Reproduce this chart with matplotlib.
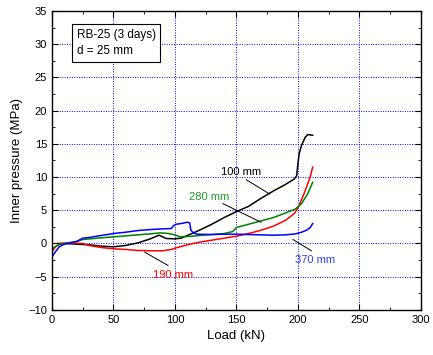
import matplotlib.pyplot as plt
from matplotlib.ticker import MultipleLocator

plt.rcParams['font.family'] = ['Liberation Sans', 'DejaVu Sans']

# Inner pressure vs load at four gauge positions (RB-25, 3 days)
load_100 = [5, 10, 20, 30, 40, 50, 60, 70, 80, 87, 90, 93, 100, 105, 110, 120, 130,
            140, 150, 160, 170, 180, 190, 197, 199, 200, 201, 203, 206, 208, 212]
p_100 = [0.0, 0.0, -0.1, -0.2, -0.4, -0.5, -0.3, 0.1, 0.7, 1.25, 1.0, 0.75, 0.7, 0.8,
         1.2, 2.0, 2.9, 3.9, 4.8, 5.6, 6.8, 7.9, 8.9, 9.7, 10.2, 12.0, 13.5, 14.8,
         16.0, 16.4, 16.3]

load_190 = [0, 3, 7, 15, 25, 30, 40, 50, 60, 70, 80, 90, 97, 102, 110, 120, 130, 140,
            150, 160, 170, 180, 190, 197, 200, 205, 210, 212]
p_190 = [-1.2, -0.5, 0.0, 0.1, 0.0, -0.3, -0.6, -0.8, -0.9, -1.05, -1.1, -1.1, -0.9,
         -0.6, -0.2, 0.2, 0.5, 0.8, 1.1, 1.5, 2.0, 2.6, 3.5, 4.5, 5.3, 7.5, 10.0, 11.5]

load_280 = [0, 5, 10, 20, 25, 40, 50, 60, 70, 80, 88, 95, 100, 104, 110, 120, 130, 140,
            147, 150, 160, 170, 180, 190, 198, 203, 208, 212]
p_280 = [-0.8, -0.2, 0.0, 0.3, 0.6, 0.85, 1.0, 1.15, 1.3, 1.45, 1.6, 1.5, 1.3, 1.0,
         1.05, 1.2, 1.35, 1.5, 1.8, 2.4, 2.9, 3.4, 3.9, 4.6, 5.2, 6.0, 7.5, 9.2]

load_370 = [0, 3, 6, 10, 15, 20, 25, 30, 40, 50, 60, 70, 80, 90, 97, 99, 101, 105, 110,
            112, 113, 115, 118, 130, 140, 150, 160, 170, 180, 190, 198, 203, 207, 210, 212]
p_370 = [-2.0, -1.2, -0.5, -0.1, 0.1, 0.3, 0.8, 0.9, 1.2, 1.5, 1.7, 1.95, 2.1, 2.2,
         2.25, 2.7, 2.9, 3.0, 3.2, 3.1, 2.0, 1.6, 1.4, 1.35, 1.4, 1.4, 1.35, 1.3, 1.25,
         1.3, 1.45, 1.7, 2.0, 2.4, 3.0]

fig = plt.figure(figsize=(4.33, 3.55), dpi=100)
ax = fig.add_axes([0.12, 0.127, 0.852, 0.842])

ax.plot(load_100, p_100, color='black', lw=1.1)
ax.plot(load_190, p_190, color='red', lw=1.1)
ax.plot(load_280, p_280, color='green', lw=1.1)
ax.plot(load_370, p_370, color='blue', lw=1.1)

# curve labels with leader lines
ax.text(153.5, 10.7, '100 mm', color='black', fontsize=8, ha='center', va='center')
ax.plot([158, 177], [9.6, 7.45], color='black', lw=0.7)
ax.text(128, 7.0, '280 mm', color='#22992a', fontsize=8, ha='center', va='center')
ax.plot([139, 170], [6.0, 3.2], color='black', lw=0.7)
ax.text(98.7, -4.8, '190 mm', color='red', fontsize=8, ha='center', va='center')
ax.plot([75.4, 94.3], [-1.3, -3.3], color='black', lw=0.7)
ax.text(214, -2.55, '370 mm', color='#3344ee', fontsize=8, ha='center', va='center')
ax.plot([196, 211], [0.6, -1.1], color='black', lw=0.7)

ax.text(20, 30.2, 'RB-25 (3 days)\nd = 25 mm', fontsize=8.5, ha='left', va='center',
        linespacing=1.45,
        bbox=dict(boxstyle='square,pad=0.4', facecolor='white', edgecolor='black', lw=0.8))

ax.set_xlim(0, 300)
ax.set_ylim(-10, 35)
ax.xaxis.set_major_locator(MultipleLocator(50))
ax.xaxis.set_minor_locator(MultipleLocator(25))
ax.yaxis.set_major_locator(MultipleLocator(5))
ax.yaxis.set_minor_locator(MultipleLocator(2.5))
ax.tick_params(which='both', direction='in', top=True, right=True, labelsize=8)
ax.tick_params(which='major', length=4)
ax.tick_params(which='minor', length=2)
ax.grid(True, which='major', color='blue', linestyle=(0, (1, 1.5)), linewidth=0.7)
ax.set_axisbelow(True)

for s in ax.spines.values():
    s.set_linewidth(1.0)

ax.set_xlabel('Load (kN)', fontsize=9.5)
ax.set_ylabel('Inner pressure (MPa)', fontsize=9.5)

fig.savefig('out.png', dpi=100)
